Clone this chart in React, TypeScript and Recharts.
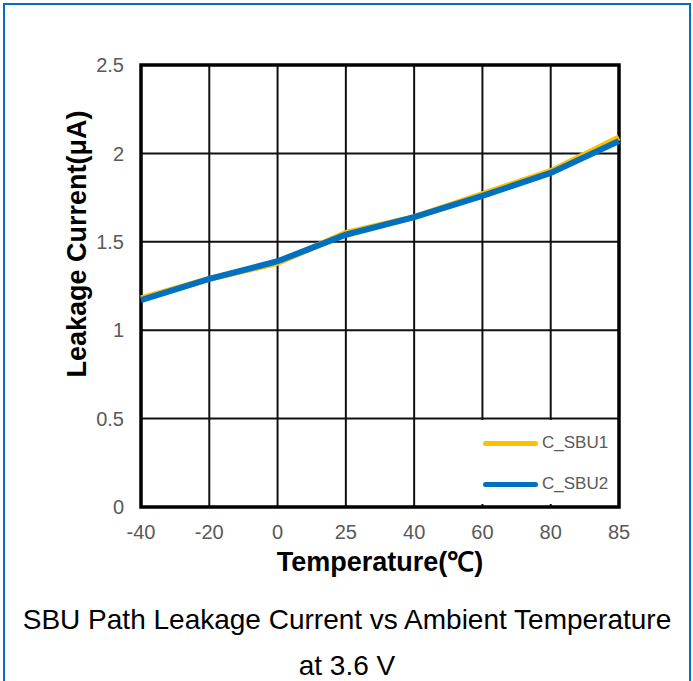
import React from "react";
import {
  CartesianGrid,
  Legend,
  Line,
  LineChart,
  ReferenceArea,
  XAxis,
  YAxis,
} from "recharts";

// ambient temperature points (°C), plotted as evenly spaced categories
const temps = ["-40", "-20", "0", "25", "40", "60", "80", "85"];

// leakage current per SBU path, µA
const sbu1 = [1.18, 1.29, 1.38, 1.55, 1.64, 1.77, 1.9, 2.09];
const sbu2 = [1.17, 1.29, 1.39, 1.54, 1.64, 1.76, 1.89, 2.07];

const yTicks = [0, 0.5, 1, 1.5, 2, 2.5];

const FONT = '"Liberation Sans", Arial, sans-serif';
const TICK_GREY = "#595959";

const rows = temps.map((t, i) => ({ temp: t, C_SBU1: sbu1[i], C_SBU2: sbu2[i] }));

type LegendItem = { value?: string; color?: string };

function LegendBox({ payload }: { payload?: LegendItem[] }) {
  const items = payload ?? [];
  return (
    <div style={{ paddingTop: 13 }}>
      {items.map((item) => (
        <div
          key={item.value}
          style={{ display: "flex", alignItems: "center", height: 20, marginBottom: 21 }}
        >
          <span
            style={{
              display: "inline-block",
              width: 55,
              height: 5,
              borderRadius: 3,
              background: item.color,
              marginLeft: 13,
              marginRight: 4,
            }}
          />
          <span style={{ fontFamily: FONT, fontSize: 17, color: TICK_GREY }}>{item.value}</span>
        </div>
      ))}
    </div>
  );
}

export default function App() {
  return (
    <div
      style={{
        position: "absolute",
        left: 0,
        top: 0,
        width: 693,
        height: 681,
        overflow: "hidden",
        background: "#fff",
        fontFamily: FONT,
      }}
    >
      {/* blue frame around the figure */}
      <div
        style={{
          position: "absolute",
          left: 3,
          top: 3,
          width: 688,
          height: 720,
          border: "2px solid #0070C0",
          boxSizing: "border-box",
        }}
      />

      <div style={{ position: "absolute", left: 0, top: 0 }}>
        <LineChart
          width={693}
          height={681}
          data={rows}
          margin={{ top: 65, right: 74, bottom: 144, left: 81 }}
        >
          <CartesianGrid stroke="#111" strokeWidth={2} />
          <XAxis
            dataKey="temp"
            type="category"
            axisLine={false}
            tickLine={false}
            tickSize={0}
            tickMargin={18}
            height={30}
            interval={0}
            tick={{ fill: TICK_GREY, fontSize: 20, fontFamily: FONT }}
          />
          <YAxis
            type="number"
            domain={[0, 2.5]}
            ticks={yTicks}
            axisLine={false}
            tickLine={false}
            tickSize={0}
            tickMargin={17}
            width={60}
            tick={{ fill: TICK_GREY, fontSize: 20, fontFamily: FONT }}
          />
          <Line
            type="linear"
            dataKey="C_SBU1"
            stroke="#FFC000"
            strokeWidth={6}
            dot={false}
            isAnimationActive={false}
          />
          <Line
            type="linear"
            dataKey="C_SBU2"
            stroke="#0070C0"
            strokeWidth={6}
            dot={false}
            isAnimationActive={false}
          />
          {/* heavy plot-area border */}
          <ReferenceArea
            x1="-40"
            x2="85"
            y1={0}
            y2={2.5}
            fill="none"
            stroke="#000"
            strokeWidth={3.5}
            ifOverflow="visible"
          />
          <Legend
            layout="vertical"
            align="center"
            verticalAlign="middle"
            content={(props: any) => <LegendBox payload={props.payload} />}
            wrapperStyle={{
              left: 470,
              top: 420,
              width: 147,
              height: 84,
              background: "#fff",
            }}
          />
        </LineChart>
      </div>

      {/* axis titles */}
      <div
        style={{
          position: "absolute",
          left: 380,
          top: 562,
          transform: "translate(-50%, -50%)",
          fontSize: 27,
          fontWeight: "bold",
          lineHeight: 1,
          whiteSpace: "nowrap",
          color: "#000",
        }}
      >
        Temperature(℃)
      </div>
      <div
        style={{
          position: "absolute",
          left: 77,
          top: 244,
          transform: "translate(-50%, -50%) rotate(-90deg)",
          fontSize: 27,
          fontWeight: "bold",
          lineHeight: 1,
          whiteSpace: "nowrap",
          color: "#000",
        }}
      >
        Leakage Current(μA)
      </div>

      {/* figure caption */}
      <div
        style={{
          position: "absolute",
          left: 4,
          top: 597,
          width: 686,
          textAlign: "center",
          fontSize: 28,
          lineHeight: "46px",
          color: "#000",
        }}
      >
        SBU Path Leakage Current vs Ambient Temperature
        <br />
        at 3.6 V
      </div>
    </div>
  );
}
